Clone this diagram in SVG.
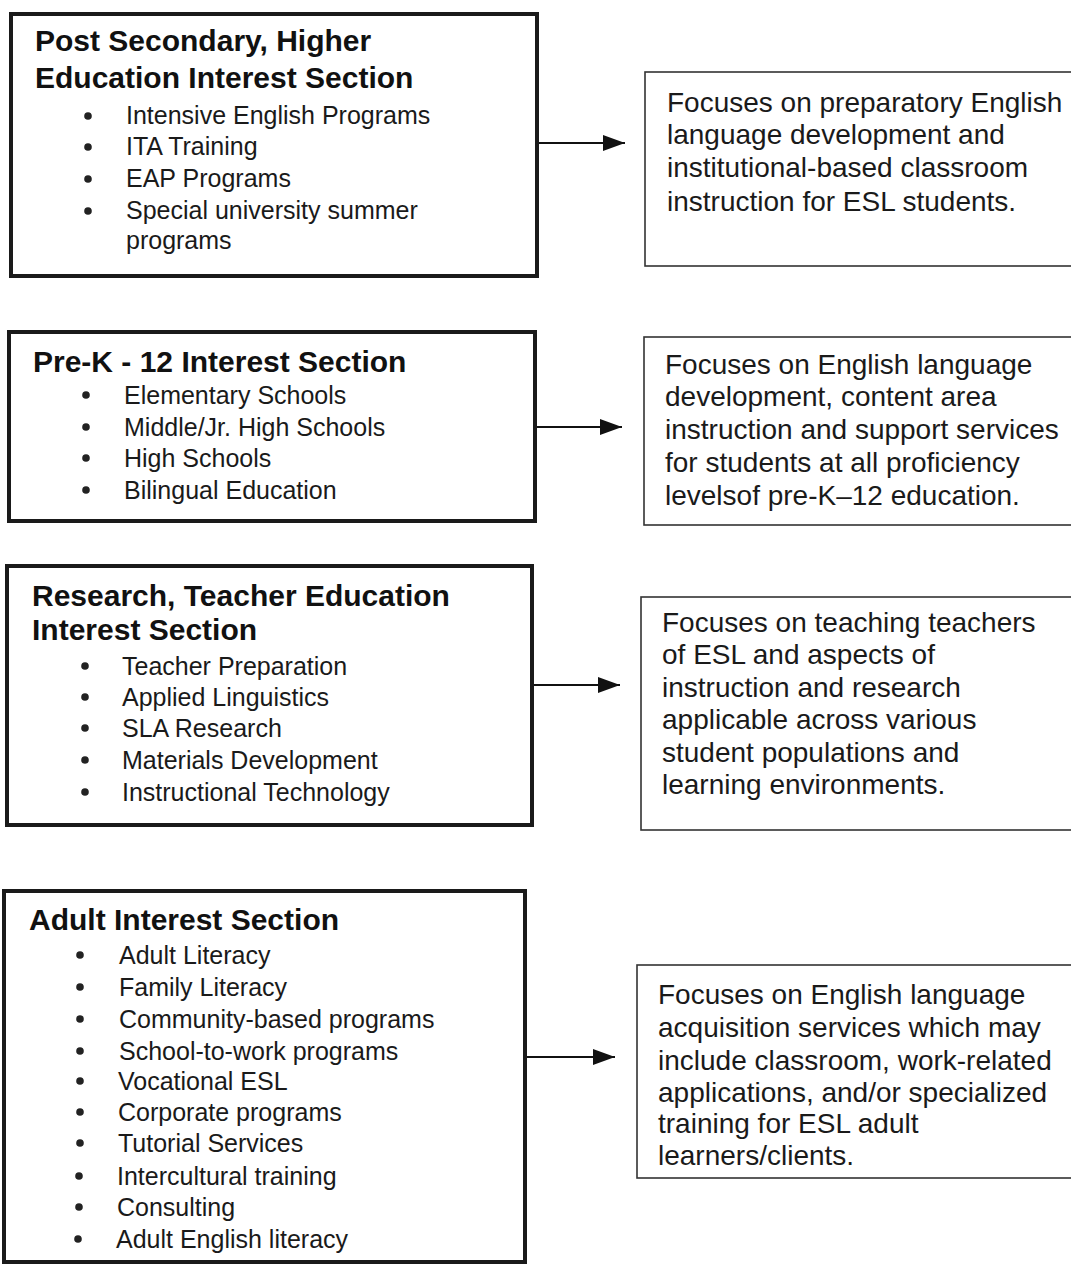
<svg xmlns="http://www.w3.org/2000/svg" width="1071" height="1266" viewBox="0 0 1071 1266">
  <defs>
    <marker id="ah" viewBox="0 0 10 10" refX="10" refY="5" markerUnits="userSpaceOnUse" markerWidth="22" markerHeight="16" orient="auto" preserveAspectRatio="none">
      <path d="M0,0 L10,5 L0,10 z" fill="#111"/>
    </marker>
  </defs>
  <style>
    .sec { fill: none; stroke: #1a1a1a; stroke-width: 4; }
    .desc { fill: none; stroke: #333; stroke-width: 1.6; }
    .title { font-family: "Liberation Sans", Arial, sans-serif; font-weight: bold; font-size: 30px; fill: #111; }
    .item { font-family: "Liberation Sans", Arial, sans-serif; font-size: 25px; fill: #1a1a1a; }
    .txt { font-family: "Liberation Sans", Arial, sans-serif; font-size: 28px; fill: #1a1a1a; }
    .dot { fill: #222; }
    .conn { stroke: #111; stroke-width: 2; fill: none; }
  </style>
  <rect width="1071" height="1266" fill="#ffffff"/>

  <g id="post-secondary">
    <rect class="sec" x="11" y="14" width="526" height="262"/>
    <text class="title" x="35" y="51">Post Secondary, Higher</text>
    <text class="title" x="35" y="88">Education Interest Section</text>
    <circle class="dot" cx="88" cy="116" r="3.8"/>
    <text class="item" x="126" y="124">Intensive English Programs</text>
    <circle class="dot" cx="88" cy="147" r="3.8"/>
    <text class="item" x="126" y="155">ITA Training</text>
    <circle class="dot" cx="88" cy="179" r="3.8"/>
    <text class="item" x="126" y="187">EAP Programs</text>
    <circle class="dot" cx="88" cy="211" r="3.8"/>
    <text class="item" x="126" y="219">Special university summer</text>
    <text class="item" x="126" y="249">programs</text>
  </g>

  <g id="post-secondary-desc">
    <rect class="desc" x="645" y="72" width="430" height="194"/>
    <text class="txt" x="667" y="112">Focuses on preparatory English</text>
    <text class="txt" x="667" y="144">language development and</text>
    <text class="txt" x="667" y="177">institutional-based classroom</text>
    <text class="txt" x="667" y="211">instruction for ESL students.</text>
  </g>

  <g id="prek12">
    <rect class="sec" x="9" y="332" width="526" height="189"/>
    <text class="title" x="33" y="372">Pre-K - 12 Interest Section</text>
    <circle class="dot" cx="86" cy="395" r="3.8"/>
    <text class="item" x="124" y="404">Elementary Schools</text>
    <circle class="dot" cx="86" cy="427" r="3.8"/>
    <text class="item" x="124" y="436">Middle/Jr. High Schools</text>
    <circle class="dot" cx="86" cy="458" r="3.8"/>
    <text class="item" x="124" y="467">High Schools</text>
    <circle class="dot" cx="86" cy="490" r="3.8"/>
    <text class="item" x="124" y="499">Bilingual Education</text>
  </g>

  <g id="prek12-desc">
    <rect class="desc" x="644" y="337" width="431" height="188"/>
    <text class="txt" x="665" y="374">Focuses on English language</text>
    <text class="txt" x="665" y="406">development, content area</text>
    <text class="txt" x="665" y="439">instruction and support services</text>
    <text class="txt" x="665" y="472">for students at all proficiency</text>
    <text class="txt" x="665" y="505">levelsof pre-K–12 education.</text>
  </g>

  <g id="research">
    <rect class="sec" x="7" y="566" width="525" height="259"/>
    <text class="title" x="32" y="606">Research, Teacher Education</text>
    <text class="title" x="32" y="640">Interest Section</text>
    <circle class="dot" cx="85" cy="666" r="3.8"/>
    <text class="item" x="122" y="675">Teacher Preparation</text>
    <circle class="dot" cx="85" cy="697" r="3.8"/>
    <text class="item" x="122" y="706">Applied Linguistics</text>
    <circle class="dot" cx="85" cy="728" r="3.8"/>
    <text class="item" x="122" y="737">SLA Research</text>
    <circle class="dot" cx="85" cy="760" r="3.8"/>
    <text class="item" x="122" y="769">Materials Development</text>
    <circle class="dot" cx="85" cy="792" r="3.8"/>
    <text class="item" x="122" y="801">Instructional Technology</text>
  </g>

  <g id="research-desc">
    <rect class="desc" x="641" y="597" width="434" height="233"/>
    <text class="txt" x="662" y="632">Focuses on teaching teachers</text>
    <text class="txt" x="662" y="664">of ESL and aspects of</text>
    <text class="txt" x="662" y="697">instruction and research</text>
    <text class="txt" x="662" y="729">applicable across various</text>
    <text class="txt" x="662" y="762">student populations and</text>
    <text class="txt" x="662" y="794">learning environments.</text>
  </g>

  <g id="adult">
    <rect class="sec" x="4" y="891" width="521" height="371"/>
    <text class="title" x="29" y="930">Adult Interest Section</text>
    <circle class="dot" cx="80" cy="955" r="3.8"/>
    <text class="item" x="119" y="964">Adult Literacy</text>
    <circle class="dot" cx="80" cy="987" r="3.8"/>
    <text class="item" x="119" y="996">Family Literacy</text>
    <circle class="dot" cx="80" cy="1019" r="3.8"/>
    <text class="item" x="119" y="1028">Community-based programs</text>
    <circle class="dot" cx="80" cy="1051" r="3.8"/>
    <text class="item" x="119" y="1060">School-to-work programs</text>
    <circle class="dot" cx="80" cy="1081" r="3.8"/>
    <text class="item" x="118" y="1090">Vocational ESL</text>
    <circle class="dot" cx="80" cy="1112" r="3.8"/>
    <text class="item" x="118" y="1121">Corporate programs</text>
    <circle class="dot" cx="80" cy="1143" r="3.8"/>
    <text class="item" x="118" y="1152">Tutorial Services</text>
    <circle class="dot" cx="79" cy="1176" r="3.8"/>
    <text class="item" x="117" y="1185">Intercultural training</text>
    <circle class="dot" cx="79" cy="1207" r="3.8"/>
    <text class="item" x="117" y="1216">Consulting</text>
    <circle class="dot" cx="78" cy="1239" r="3.8"/>
    <text class="item" x="116" y="1248">Adult English literacy</text>
  </g>

  <g id="adult-desc">
    <rect class="desc" x="637" y="965" width="438" height="213"/>
    <text class="txt" x="658" y="1004">Focuses on English language</text>
    <text class="txt" x="658" y="1037">acquisition services which may</text>
    <text class="txt" x="658" y="1070">include classroom, work-related</text>
    <text class="txt" x="658" y="1102">applications, and/or specialized</text>
    <text class="txt" x="658" y="1133">training for ESL adult</text>
    <text class="txt" x="658" y="1165">learners/clients.</text>
  </g>

  <g id="connectors">
    <line class="conn" x1="539" y1="143" x2="625" y2="143" marker-end="url(#ah)"/>
    <line class="conn" x1="537" y1="427" x2="622" y2="427" marker-end="url(#ah)"/>
    <line class="conn" x1="534" y1="685" x2="620" y2="685" marker-end="url(#ah)"/>
    <line class="conn" x1="527" y1="1057" x2="615" y2="1057" marker-end="url(#ah)"/>
  </g>
</svg>
